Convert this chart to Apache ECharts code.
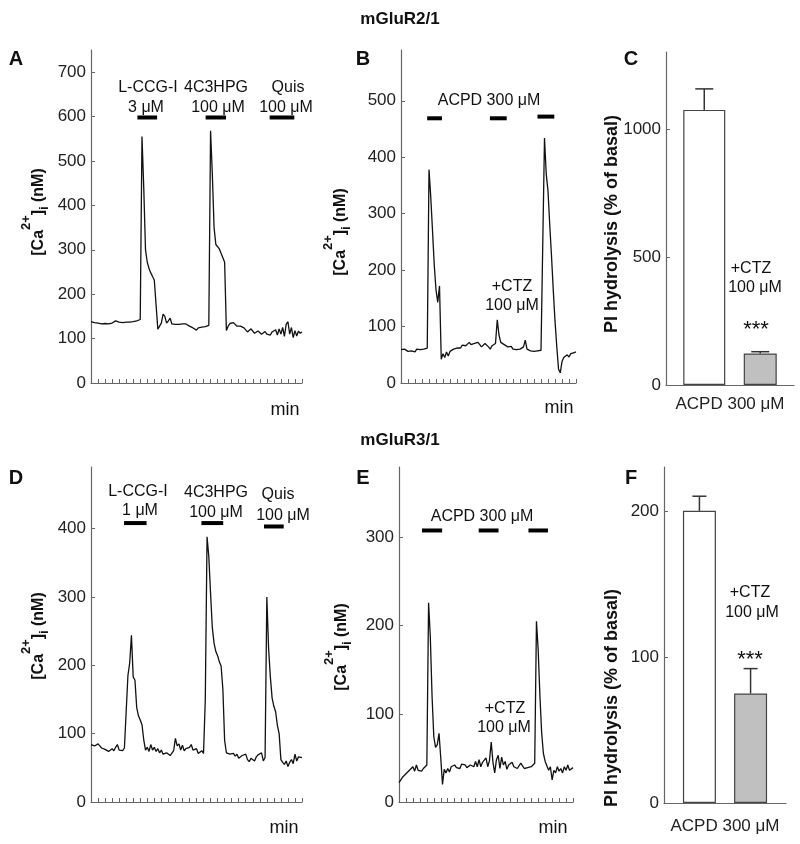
<!DOCTYPE html>
<html><head><meta charset="utf-8">
<script src="https://cdn.jsdelivr.net/npm/echarts@6/dist/echarts.min.js"></script>
<style>html,body{margin:0;padding:0;background:#fff}#c{width:800px;height:844px}</style>
</head><body><div id="c"></div>
<script>
// ---- data ----
const STEP = 0.25; // sampling interval of traces, in x-axis tick units
const A_ca = [138,137,136,137,135,134,133,133,134,135,
  133,133,135,138,140,142,137,134,136,138,
  137,139,137,137,138,138,140,142,143,555,
  440,300,272,258,248,240,232,230,121,128,
  135,155,150,135,140,146,133,130,132,130,
  132,136,133,130,133,134,128,126,124,120,
  119,124,128,126,122,127,130,130,568,470,
  350,312,308,302,298,282,272,118,128,134,
  138,136,132,128,124,128,130,124,120,115,
  118,122,120,112,114,117,113,110,112,116,
  110,112,108,115,112,120,108,122,110,125,
  105,132,138,110,125,102,118,106,117,112,115];
const B_ca = [59,57,60,59,56,58,57,59,55,60,
  57,59,61,60,60,62,378,330,270,209,
  165,143,172,42,52,45,55,48,56,58,
  60,58,62,64,62,67,70,66,69,72,
  68,66,70,68,72,70,64,62,70,72,
  64,60,66,63,70,112,85,72,70,68,
  66,64,62,65,60,62,59,62,60,61,
  64,76,60,58,57,59,56,58,57,56,
  58,57,434,370,340,280,225,165,110,65,
  25,18,38,45,42,50,46,52,50,54,55];
const D_ca = [84,86,82,83,85,82,79,80,77,76,
  74,73,78,75,80,84,76,74,75,79,
  80,185,203,244,183,178,138,126,120,113,
  91,76,80,74,84,76,80,74,78,72,
  76,70,69,72,74,68,67,75,93,82,
  85,76,83,75,78,76,80,84,76,74,
  78,71,73,75,71,150,388,359,305,255,
  232,220,214,205,199,165,90,72,74,70,
  69,71,67,70,64,66,68,66,70,62,
  59,64,62,60,66,69,71,72,60,65,
  300,225,183,152,140,132,112,100,62,58,
  55,60,52,58,62,56,70,60,66,68,65];
const E_ca = [22,24,28,27,32,30,36,34,40,35,
  42,36,38,35,38,40,42,226,187,120,
  74,62,65,78,50,20,37,33,38,34,
  40,38,42,39,40,38,43,41,42,39,
  37,42,40,40,46,40,48,40,45,44,
  50,40,47,68,45,33,48,53,38,51,
  42,46,37,42,44,45,40,42,38,40,
  44,41,38,40,39,37,40,42,44,205,
  172,120,78,55,46,44,36,40,25,36,
  33,40,35,38,33,40,36,42,36,38,39];
// drug applications: [start, end, level]
const A_drugs = [[6.6, 9.4, 598], [16.3, 19.2, 598], [25.4, 28.9, 598]];
const B_drugs = [[3.74, 5.85, 469], [12.7, 15.1, 469], [19.5, 21.9, 472]];
const D_drugs = [[4.7, 7.9, 408], [15.7, 18.8, 408], [24.6, 27.4, 403]];
const E_drugs = [[3.3, 6.2, 308], [11.45, 14.3, 308], [18.6, 21.4, 308]];
const A_yticks = [0,100,200,300,400,500,600,700];
const B_yticks = [0,100,200,300,400,500];
const C_yticks = [0,500,1000];
const D_yticks = [0,100,200,300,400];
const E_yticks = [0,100,200,300];
const F_yticks = [0,100,200];
const barCategory = ['ACPD 300 μM'];
const C_means = [1074, 123];
const C_err = [82, 7];
const F_means = [200, 75];
const F_err = [10, 17];

// ---- chart ----
const FONT = '"Liberation Sans", Arial, Helvetica, sans-serif';
const AX = '#666';
const TR = '#111';
function xyOf(vals){ return vals.map((v,i)=>[i*STEP, v]); }
function traceX(g, max){
  return {type:'value', gridIndex:g, min:0, max:max, interval:1,
    axisLine:{show:true,onZero:false,lineStyle:{color:AX,width:1.2}},
    axisTick:{show:true,inside:true,length:4,lineStyle:{color:AX,width:1}},
    axisLabel:{show:false}, splitLine:{show:false}};
}
function catX(g, margin){
  return {type:'category', gridIndex:g, data:barCategory,
    axisLine:{show:true,onZero:false,lineStyle:{color:AX,width:1.2}},
    axisTick:{show:false},
    axisLabel:{fontSize:17, margin:margin, color:'#222', fontFamily:FONT},
    splitLine:{show:false}};
}
function valY(g, max, ticks){
  return {type:'value', gridIndex:g, min:0, max:max,
    axisLine:{show:true,onZero:false,lineStyle:{color:AX,width:1.2}},
    axisTick:{show:true,inside:true,length:4,customValues:ticks,lineStyle:{color:AX,width:1}},
    axisLabel:{customValues:ticks, fontSize:17, margin:5, color:'#222', fontFamily:FONT,
      formatter:function(v){ return String(v); }},
    splitLine:{show:false}};
}
function trace(g, vals){
  return {type:'line', xAxisIndex:g, yAxisIndex:g, data:xyOf(vals), symbol:'none', showSymbol:false,
    lineStyle:{color:TR, width:1.3}, silent:true, z:3};
}
function drugs(g, data){
  return {type:'custom', xAxisIndex:g, yAxisIndex:g, data:data, silent:true, z:4,
    renderItem:function(params, api){
      const p1 = api.coord([api.value(0), api.value(2)]);
      const p2 = api.coord([api.value(1), api.value(2)]);
      return {type:'rect', shape:{x:p1[0], y:p1[1]-2, width:p2[0]-p1[0], height:4}, style:{fill:'#000'}};
    }};
}
function bars(g, means, widths, gap){
  return [
    {type:'bar', xAxisIndex:g, yAxisIndex:g, data:[means[0]], barWidth:widths[0], barGap:gap,
      itemStyle:{color:'#fff', borderColor:'#444', borderWidth:1.2}, silent:true},
    {type:'bar', xAxisIndex:g, yAxisIndex:g, data:[means[1]], barWidth:widths[1], barGap:gap,
      itemStyle:{color:'#c0c0c0', borderColor:'#444', borderWidth:1.2}, silent:true}
  ];
}
function errs(g, means, errv, widths, gapPct, capW){
  const total = widths[0] + widths[0]*gapPct + widths[1];
  const offs = [-total/2 + widths[0]/2, total/2 - widths[1]/2];
  return {type:'custom', xAxisIndex:g, yAxisIndex:g, silent:true, z:5,
    data: means.map((m,i)=>[0, m, m+errv[i], i]),
    renderItem:function(params, api){
      const i = api.value(3);
      const b = api.coord([0, api.value(1)]);
      const t = api.coord([0, api.value(2)]);
      const x = b[0] + offs[i];
      return {type:'group', children:[
        {type:'line', shape:{x1:x,y1:b[1],x2:x,y2:t[1]}, style:{stroke:'#333', lineWidth:1.5}},
        {type:'line', shape:{x1:x-capW/2,y1:t[1],x2:x+capW/2,y2:t[1]}, style:{stroke:'#333', lineWidth:1.5}}
      ]};
    }};
}
function txt(s, x, y, size, bold){
  return {type:'text', x:x, y:y, z:50, silent:true,
    style:{text:s, fontSize:size, fontWeight:bold?'bold':'normal', fontFamily:FONT, fill:'#111', align:'center', verticalAlign:'middle'}};
}
function caLabel(x, y){
  return {type:'text', x:x, y:y, rotation:Math.PI/2, z:50, silent:true,
    style:{text:'{m|[Ca}{sup|2+}{m|]}{sub|i}{m| (nM)}', align:'center', verticalAlign:'middle',
      rich:{
        m:{fontSize:16, fontWeight:'bold', fontFamily:FONT, fill:'#111', lineHeight:38},
        sup:{fontSize:13, fontWeight:'bold', fontFamily:FONT, fill:'#111', lineHeight:13, verticalAlign:'top'},
        sub:{fontSize:12, fontWeight:'bold', fontFamily:FONT, fill:'#111', lineHeight:12, padding:[12,0,0,0]}
      }}};
}
function piLabel(x, y){
  return {type:'text', x:x, y:y, rotation:Math.PI/2, z:50, silent:true,
    style:{text:'PI hydrolysis (% of basal)', fontSize:18, fontWeight:'bold', fontFamily:FONT, fill:'#111', align:'center', verticalAlign:'middle'}};
}

const option = {
  animation:false,
  backgroundColor:'#fff',
  textStyle:{fontFamily:FONT},
  grid:[
    {left:91, top:50, width:211, height:333},
    {left:401, top:50, width:175, height:333},
    {left:666, top:52, width:128, height:333},
    {left:91, top:467, width:211, height:335},
    {left:399, top:467, width:174, height:335},
    {left:664, top:467, width:122, height:336}
  ],
  xAxis:[traceX(0,30), traceX(1,25), catX(2,11), traceX(3,30), traceX(4,25), catX(5,15)],
  yAxis:[valY(0,750,A_yticks), valY(1,590,B_yticks), valY(2,1300,C_yticks),
         valY(3,490,D_yticks), valY(4,380,E_yticks), valY(5,230,F_yticks)],
  series:[
    trace(0, A_ca), drugs(0, A_drugs),
    trace(1, B_ca), drugs(1, B_drugs),
    ...bars(2, C_means, [42,33], '44%'), errs(2, C_means, C_err, [42,33], 0.44, 18),
    trace(3, D_ca), drugs(3, D_drugs),
    trace(4, E_ca), drugs(4, E_drugs),
    ...bars(5, F_means, [33,33], '55%'), errs(5, F_means, F_err, [33,33], 0.55, 14)
  ],
  graphic:[
    txt('mGluR2/1', 400, 19, 17, true),
    txt('mGluR3/1', 400, 440, 17, true),
    txt('A', 16, 59, 20, true), txt('B', 363, 59, 20, true), txt('C', 631, 59, 20, true),
    txt('D', 16, 478, 20, true), txt('E', 363, 478, 20, true), txt('F', 631, 478, 20, true),
    txt('L-CCG-I', 148, 88, 16), txt('3 μM', 146, 108, 16),
    txt('4C3HPG', 216, 88, 16), txt('100 μM', 218, 108, 16),
    txt('Quis', 288, 88, 16), txt('100 μM', 286, 108, 16),
    txt('ACPD 300 μM', 489, 101, 16), txt('+CTZ', 512, 287, 16), txt('100 μM', 512, 306, 16),
    txt('+CTZ', 751, 269, 16), txt('100 μM', 755, 288, 16), txt('***', 756, 330, 22),
    txt('L-CCG-I', 138, 492, 16), txt('1 μM', 140, 511, 16),
    txt('4C3HPG', 216, 493, 16), txt('100 μM', 216, 513, 16),
    txt('Quis', 278, 495, 16), txt('100 μM', 283, 516, 16),
    txt('ACPD 300 μM', 482, 517, 16), txt('+CTZ', 505, 709, 16), txt('100 μM', 504, 728, 16),
    txt('+CTZ', 750, 593, 16), txt('100 μM', 752, 613, 16), txt('***', 750, 660, 22),
    txt('min', 285, 410, 18), txt('min', 559, 408, 18), txt('min', 284, 828, 18), txt('min', 553, 828, 18),
    caLabel(39, 212), caLabel(341, 232), caLabel(39, 636), caLabel(342, 647),
    piLabel(612, 224), piLabel(612, 698)
  ]
};
const chart = echarts.init(document.getElementById('c'), null, {renderer:'canvas'});
chart.setOption(option);
</script>
</body></html>
